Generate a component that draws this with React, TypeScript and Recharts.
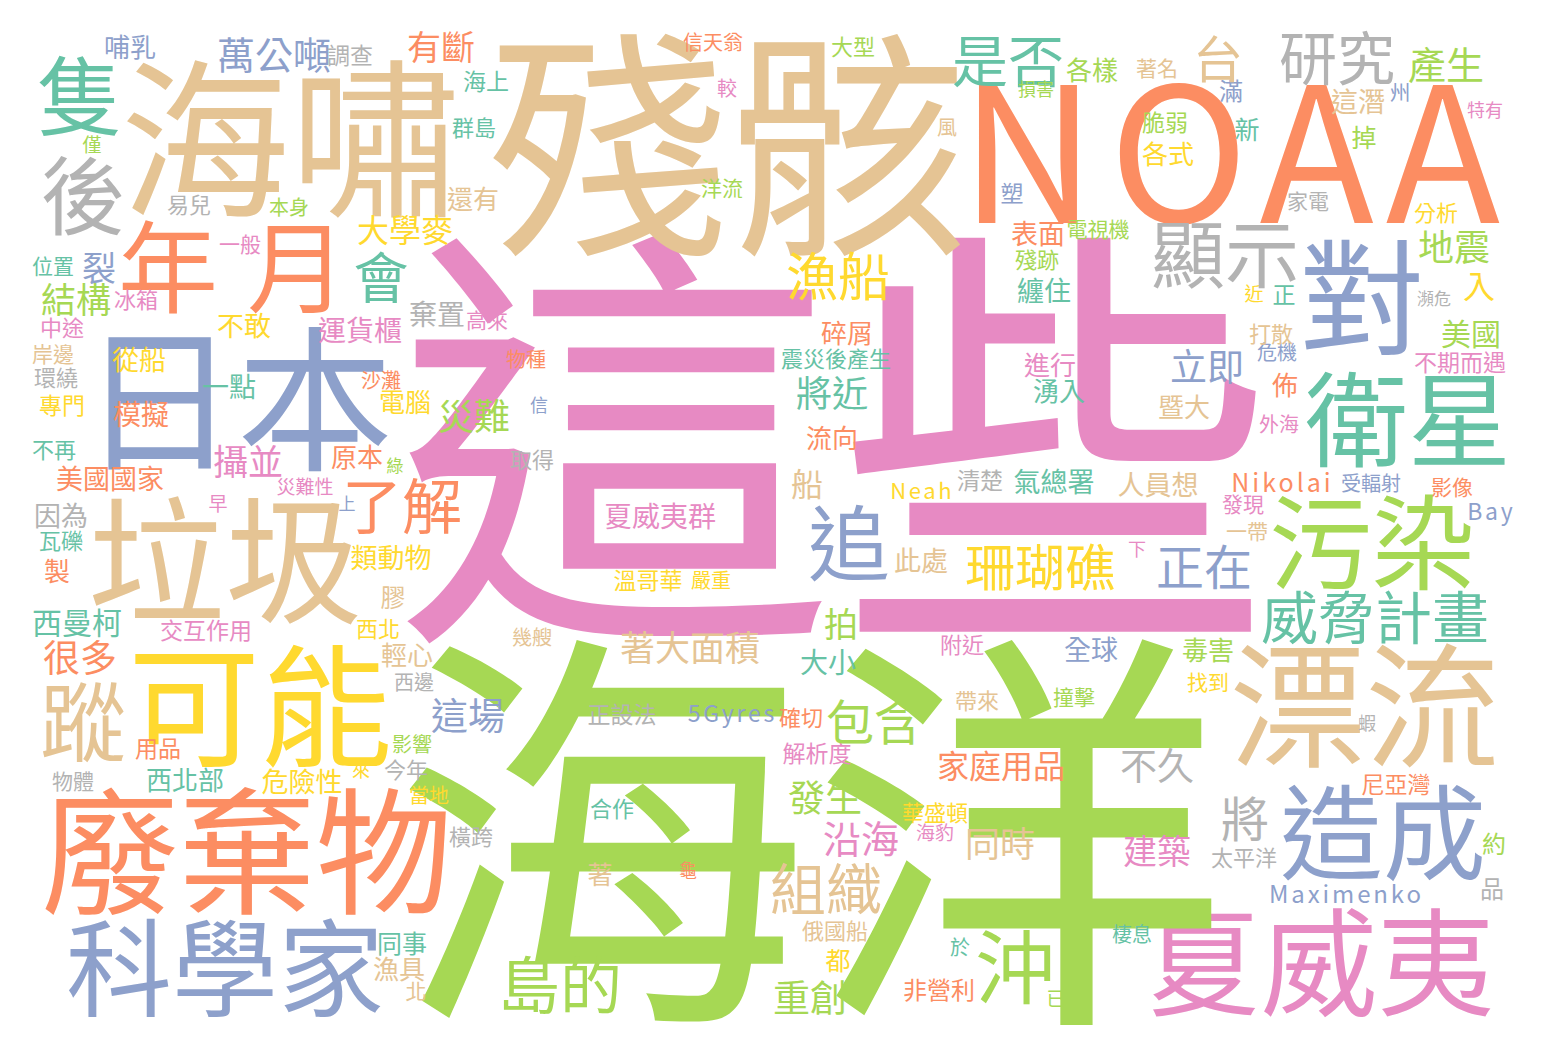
import React from "react";
import { ScatterChart, Scatter, XAxis, YAxis } from "recharts";

type W = { w: string; x: number; y: number; s: number };
const mk = (rows: [string, number, number, number][]): W[] =>
  rows.map(([w, x, y, s]) => ({ w, x, y, s }));

const tealWords = mk([
  ["衛星", 1408, 420, 103], ["是否", 1008, 60, 56], ["隻", 80, 96, 86], ["會", 381, 277, 55],
  ["海上", 486, 81, 23], ["群島", 474, 127, 22], ["位置", 53, 266, 21], ["一點", 229, 387, 27],
  ["不再", 54, 449, 22], ["瓦礫", 61, 540, 22], ["西曼柯", 77, 622, 30], ["西北部", 185, 780, 26],
  ["同事", 402, 943, 25], ["震災後產生", 836, 358, 22], ["將近", 832, 393, 36], ["氣總署", 1054, 482, 27],
  ["纏住", 1044, 291, 27], ["湧入", 1059, 391, 26], ["正", 1284, 294, 23], ["新", 1247, 129, 25],
  ["威脅計畫", 1375, 617, 57], ["棲息", 1132, 934, 20], ["於", 960, 947, 20], ["大小", 828, 662, 28],
  ["合作", 612, 808, 22],
]);

const orangeWords = mk([
  ["NOAA", 1230, 150, 188], ["廢棄物", 247, 851, 137], ["年", 168, 266, 100], ["月", 297, 266, 100],
  ["有斷", 441, 47, 34], ["模擬", 141, 414, 28], ["沙灘", 381, 380, 20], ["物種", 526, 359, 20],
  ["原本", 357, 457, 26], ["美國國家", 110, 479, 27], ["了解", 402, 505, 60], ["製", 57, 571, 26],
  ["很多", 80, 658, 37], ["用品", 158, 748, 23], ["信天翁", 713, 42, 20], ["碎屑", 847, 333, 26],
  ["流向", 832, 438, 26], ["表面", 1038, 234, 27], ["佈", 1285, 385, 26], ["Nikolai", 1281, 482, 25],
  ["影像", 1452, 487, 21], ["尼亞灣", 1396, 784, 23], ["家庭用品", 1001, 766, 32], ["非營利", 939, 990, 24],
  ["確切", 801, 717, 22], ["龜", 688, 870, 18],
]);

const blueWords = mk([
  ["日本", 237, 398, 156], ["科學家", 225, 967, 106], ["造成", 1383, 833, 103], ["對", 1362, 297, 125],
  ["萬公噸", 274, 54, 38], ["哺乳", 130, 47, 26], ["裂", 99, 268, 34], ["信", 539, 405, 18],
  ["上", 347, 503, 17], ["這場", 468, 716, 37], ["塑", 1012, 193, 23], ["立即", 1207, 367, 37],
  ["危機", 1277, 352, 20], ["州", 1400, 92, 21], ["滿", 1231, 91, 24], ["受輻射", 1371, 483, 20],
  ["Bay", 1490, 511, 23], ["正在", 1204, 566, 48], ["全球", 1091, 650, 27], ["Maximenko", 1345, 894, 24],
  ["追", 849, 543, 82], ["5Gyres", 731, 713, 23],
]);

const pinkWords = mk([
  ["這些", 835, 438, 440], ["夏威夷", 1319, 962, 117], ["一般", 240, 244, 21], ["冰箱", 136, 299, 22],
  ["中途", 62, 327, 22], ["運貨櫃", 360, 330, 28], ["高來", 487, 320, 21], ["攝並", 248, 461, 35],
  ["災難性", 305, 486, 19], ["早", 218, 503, 19], ["交互作用", 206, 630, 23], ["較", 727, 88, 20],
  ["進行", 1050, 365, 26], ["外海", 1279, 424, 20], ["不期而遇", 1460, 362, 23], ["特有", 1485, 110, 18],
  ["發現", 1243, 504, 21], ["下", 1137, 549, 18], ["建築", 1157, 851, 34], ["解析度", 817, 753, 23],
  ["海豹", 935, 832, 19], ["沿海", 861, 838, 38], ["夏威夷群", 660, 516, 28], ["附近", 962, 644, 22],
]);

const limeWords = mk([
  ["海洋", 810, 830, 418], ["污染", 1372, 543, 103], ["產生", 1446, 64, 38], ["本身", 289, 207, 20],
  ["僅", 92, 144, 19], ["結構", 76, 299, 35], ["災難", 474, 416, 36], ["綠", 395, 465, 17],
  ["影響", 412, 744, 20], ["島的", 560, 985, 62], ["大型", 853, 46, 22], ["洋流", 722, 188, 21],
  ["電視機", 1098, 229, 21], ["殘跡", 1037, 259, 22], ["美國", 1471, 333, 30], ["地震", 1454, 247, 36],
  ["掉", 1364, 137, 25], ["脆弱", 1165, 122, 23], ["各樣", 1092, 70, 26], ["損害", 1036, 89, 18],
  ["毒害", 1208, 650, 26], ["撞擊", 1074, 697, 21], ["約", 1494, 844, 24], ["已", 1056, 998, 19],
  ["發生", 825, 798, 37], ["沖", 1015, 966, 80], ["重創", 810, 998, 37], ["拍", 841, 624, 34],
  ["包含", 874, 721, 48],
]);

const yellowWords = mk([
  ["可能", 260, 705, 132], ["大學麥", 405, 230, 32], ["不敢", 244, 326, 27], ["從船", 139, 360, 27],
  ["專門", 62, 405, 23], ["電腦", 405, 402, 26], ["類動物", 391, 558, 27], ["西北", 378, 628, 22],
  ["危險性", 302, 782, 27], ["來", 361, 770, 18], ["當地", 429, 795, 20], ["漁船", 838, 276, 52],
  ["Neah", 921, 490, 22], ["入", 1479, 286, 32], ["分析", 1436, 212, 22], ["近", 1254, 293, 19],
  ["各式", 1168, 154, 26], ["珊瑚礁", 1040, 566, 50], ["找到", 1208, 682, 21], ["華盛頓", 935, 812, 22],
  ["都", 838, 960, 25], ["溫哥華", 648, 580, 23], ["嚴重", 711, 580, 20],
]);

const tanWords = mk([
  ["殘骸", 728, 143, 240], ["海嘯", 290, 138, 170], ["垃圾", 225, 560, 137], ["漂流", 1365, 705, 135],
  ["台", 1218, 58, 50], ["還有", 473, 199, 26], ["岸邊", 53, 354, 21], ["膠", 393, 597, 25],
  ["輕心", 407, 655, 26], ["蹤", 83, 722, 86], ["漁具", 399, 969, 26], ["北", 416, 991, 21],
  ["風", 947, 127, 20], ["船", 807, 484, 32], ["暨大", 1184, 407, 26], ["打散", 1271, 333, 22],
  ["這潛", 1358, 102, 27], ["著名", 1157, 68, 21], ["人員想", 1158, 485, 27], ["一帶", 1247, 531, 21],
  ["同時", 1000, 843, 35], ["組織", 826, 888, 56], ["俄國船", 835, 930, 22], ["此處", 921, 561, 27],
  ["著大面積", 690, 647, 35], ["帶來", 977, 700, 22], ["著", 600, 874, 25], ["幾艘", 532, 637, 20],
]);

const grayWords = mk([
  ["顯示", 1225, 253, 74], ["研究", 1337, 58, 58], ["後", 83, 195, 85], ["調查", 350, 55, 23],
  ["易兒", 189, 204, 22], ["棄置", 437, 314, 28], ["環繞", 56, 377, 22], ["取得", 532, 459, 22],
  ["因為", 61, 516, 27], ["西邊", 414, 682, 20], ["物體", 73, 781, 21], ["今年", 406, 769, 22],
  ["橫跨", 471, 836, 22], ["清楚", 980, 480, 23], ["瀕危", 1434, 298, 17], ["家電", 1308, 201, 21],
  ["蝦", 1367, 723, 18], ["不久", 1157, 766, 37], ["將", 1245, 818, 48], ["太平洋", 1244, 857, 22],
  ["品", 1492, 889, 24], ["正設法", 622, 714, 23],
]);

const palette: [W[], string][] = [
  [tealWords, "#66c2a5"],
  [orangeWords, "#fc8d62"],
  [blueWords, "#8da0cb"],
  [pinkWords, "#e78ac3"],
  [limeWords, "#a6d854"],
  [yellowWords, "#ffd92f"],
  [tanWords, "#e5c494"],
  [grayWords, "#b3b3b3"],
];

// big words are drawn first so the small words sit on top of them
const BIG = 100;
const layers: [W[], string][] = [
  ...palette.map(([d, c]) => [d.filter((r) => r.s >= BIG), c] as [W[], string]),
  ...palette.map(([d, c]) => [d.filter((r) => r.s < BIG), c] as [W[], string]),
];

const isLatin = (w: string) => /^[A-Za-z0-9]+$/.test(w);

const makeShape = (color: string) => (props: any) => {
  const { cx, cy, payload } = props;
  const latin = isLatin(payload.w);
  const big = payload.w === "NOAA";
  const sp = latin ? (big ? 0.07 : 0.12) : 0;
  return (
    <text
      x={cx}
      y={cy}
      dy="-0.05em"
      dx={sp ? (payload.s * sp) / 2 : undefined}
      textAnchor="middle"
      dominantBaseline="central"
      fontSize={payload.s}
      fill={color}
      letterSpacing={sp ? `${sp}em` : undefined}
      fontFamily="'Noto Sans CJK TC', 'Noto Sans', sans-serif"
    >
      {payload.w}
    </text>
  );
};

export default function App() {
  return (
    <div style={{ position: "absolute", left: 0, top: 0, width: 1548, height: 1052, background: "#fff" }}>
      <ScatterChart width={1548} height={1052} margin={{ top: 0, right: 0, bottom: 0, left: 0 }}>
        <XAxis type="number" dataKey="x" domain={[0, 1548]} hide />
        <YAxis type="number" dataKey="y" domain={[0, 1052]} reversed hide />
        {layers.map(([data, color], i) => (
          <Scatter key={i} data={data} shape={makeShape(color)} isAnimationActive={false} />
        ))}
      </ScatterChart>
    </div>
  );
}
